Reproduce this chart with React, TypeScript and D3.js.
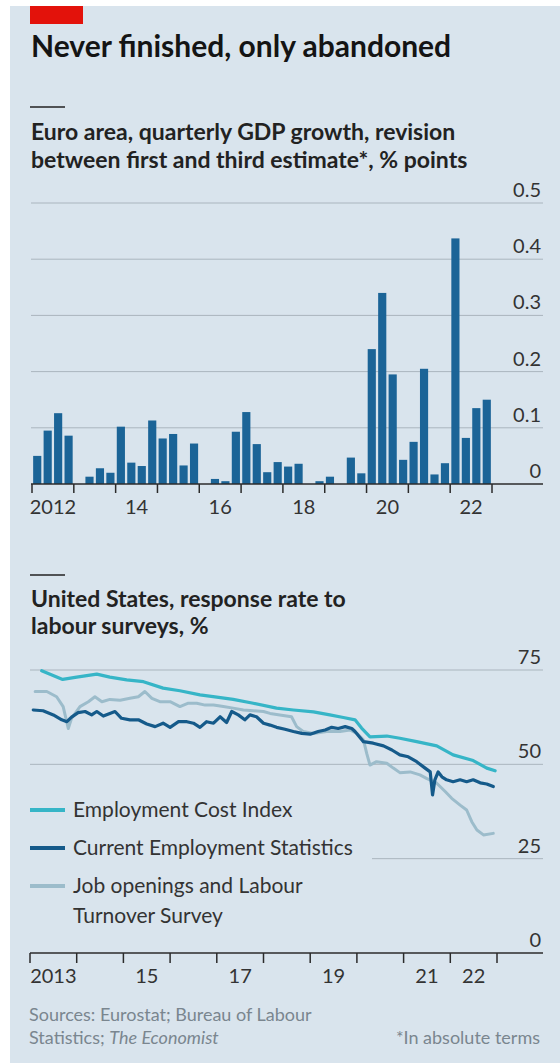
import React from "react";
import * as d3 from "d3";

// ---------- Data ----------
const barYears = [2012, 2013, 2014, 2015, 2016, 2017, 2018, 2019, 2020, 2021, 2022];
const quarters = ["Q1", "Q2", "Q3", "Q4"];
// GDP revision (abs), % points, quarterly from 2012Q1 to 2022Q4
const gdpRevision = [
  0.05, 0.095, 0.126, 0.086,
  0.0, 0.013, 0.028, 0.02,
  0.102, 0.038, 0.032, 0.113,
  0.081, 0.089, 0.033, 0.072,
  0.0, 0.009, 0.005, 0.093,
  0.128, 0.071, 0.021, 0.039,
  0.031, 0.036, 0.0, 0.005,
  0.013, 0.0, 0.047, 0.019,
  0.24, 0.34, 0.195, 0.043,
  0.075, 0.205, 0.017, 0.037,
  0.437, 0.082, 0.135, 0.15,
];
const barYTicks = [0, 0.1, 0.2, 0.3, 0.4, 0.5];
const barXLabels = [
  { year: 2012, label: "2012" },
  { year: 2014, label: "14" },
  { year: 2016, label: "16" },
  { year: 2018, label: "18" },
  { year: 2020, label: "20" },
  { year: 2022, label: "22" },
];

// Response rates, % : [decimal year, value]
const eciSeries: [number, number][] = [
  [2013.25, 74.8], [2013.7, 72.5], [2014.0, 73.1], [2014.43, 73.9], [2014.71, 73.1],
  [2015.07, 72.4], [2015.43, 71.9], [2015.85, 70.2], [2016.21, 69.5], [2016.64, 68.4],
  [2017.0, 67.8], [2017.35, 67.2], [2017.78, 66.2], [2018.28, 64.9], [2018.64, 64.4],
  [2019.07, 63.9], [2019.42, 63.1], [2019.71, 62.4], [2019.96, 61.8], [2020.1, 59.6],
  [2020.28, 57.3], [2020.64, 57.5], [2020.92, 56.9], [2021.28, 56.0], [2021.71, 54.9],
  [2022.06, 52.5], [2022.49, 51.0], [2022.78, 49.0], [2022.96, 48.3],
];
const cesSeries: [number, number][] = [
  [2013.07, 64.4], [2013.28, 64.2], [2013.5, 63.1], [2013.68, 61.8], [2013.79, 61.3],
  [2013.89, 62.5], [2014.03, 63.7], [2014.18, 64.0], [2014.32, 63.1], [2014.43, 64.0],
  [2014.57, 62.8], [2014.71, 63.5], [2014.82, 64.0], [2014.96, 62.2], [2015.14, 61.8],
  [2015.32, 61.8], [2015.5, 60.7], [2015.68, 60.0], [2015.85, 60.9], [2016.0, 59.8],
  [2016.18, 61.3], [2016.36, 61.3], [2016.5, 60.9], [2016.64, 59.8], [2016.78, 61.3],
  [2016.93, 60.9], [2017.07, 62.6], [2017.21, 61.1], [2017.32, 64.0], [2017.46, 63.1],
  [2017.6, 61.8], [2017.71, 63.1], [2017.85, 62.6], [2018.0, 60.9], [2018.14, 60.4],
  [2018.28, 59.8], [2018.46, 59.3], [2018.64, 58.7], [2018.82, 58.2], [2019.0, 58.0],
  [2019.17, 58.7], [2019.32, 59.1], [2019.46, 59.8], [2019.6, 59.5], [2019.75, 60.0],
  [2019.89, 59.5], [2019.96, 58.7], [2020.14, 56.0], [2020.35, 55.6], [2020.57, 54.9],
  [2020.75, 53.8], [2020.92, 52.5], [2021.1, 52.0], [2021.28, 50.7], [2021.46, 49.0],
  [2021.57, 48.0], [2021.62, 41.9], [2021.67, 45.9], [2021.74, 48.0], [2021.82, 46.7],
  [2021.92, 45.9], [2022.06, 45.4], [2022.21, 45.9], [2022.35, 45.4], [2022.49, 45.9],
  [2022.64, 45.1], [2022.78, 44.8], [2022.92, 44.1],
];
const joltsSeries: [number, number][] = [
  [2013.11, 69.3], [2013.36, 69.3], [2013.57, 67.9], [2013.71, 65.3], [2013.82, 59.5],
  [2013.89, 62.2], [2014.07, 65.3], [2014.25, 66.6], [2014.39, 67.9], [2014.54, 66.6],
  [2014.71, 67.2], [2014.93, 67.0], [2015.14, 67.5], [2015.32, 67.9], [2015.46, 69.3],
  [2015.61, 67.5], [2015.78, 66.6], [2016.0, 66.6], [2016.21, 65.3], [2016.39, 66.2],
  [2016.57, 66.2], [2016.75, 65.7], [2016.93, 65.7], [2017.14, 65.3], [2017.35, 64.9],
  [2017.57, 64.4], [2017.78, 64.2], [2018.0, 64.0], [2018.14, 63.5], [2018.35, 63.1],
  [2018.6, 62.6], [2018.71, 60.0], [2018.85, 58.7], [2019.07, 58.2], [2019.35, 58.7],
  [2019.64, 58.7], [2019.85, 59.1], [2020.0, 58.2], [2020.14, 56.5], [2020.21, 52.9],
  [2020.28, 49.8], [2020.42, 50.7], [2020.64, 50.3], [2020.78, 49.0], [2020.92, 47.8],
  [2021.14, 48.0], [2021.35, 47.2], [2021.49, 46.3], [2021.71, 45.0], [2021.89, 42.8],
  [2022.03, 41.0], [2022.21, 39.2], [2022.35, 37.9], [2022.46, 34.8], [2022.57, 32.6],
  [2022.71, 31.3], [2022.92, 31.7],
];
const lineYTicks = [0, 25, 50, 75];
const lineTickYears = [2013, 2014, 2015, 2016, 2017, 2018, 2019, 2020, 2021, 2022, 2023];
const lineXLabels = [
  { year: 2013, label: "2013" },
  { year: 2015, label: "15" },
  { year: 2017, label: "17" },
  { year: 2019, label: "19" },
  { year: 2021, label: "21" },
  { year: 2022, label: "22" },
];
const seriesNames = ["Employment Cost Index", "Current Employment Statistics", "Job openings and Labour|Turnover Survey"];

// ---------- Styles ----------
const W = 560;
const H = 1063;
const BG = "#d9e4ed";
const FONT = "Lato, 'Noto Sans', sans-serif";
const BAR = "#1b6497";
const ECI = "#36b5c7";
const CES = "#155a8a";
const JOLTS = "#9cbccb";
const GRID = "#aab5be";
const AXIS = "#2b2b2b";
const TXT = "#333";
const FOOT = "#7a868f";

export default function App() {
  // Bar chart scales
  const qLabels = barYears.flatMap((y) => quarters.map((q) => `${y}${q}`));
  const bx = d3.scaleBand<string>().domain(qLabels).range([32, 492]).paddingInner(0.22).paddingOuter(0.11);
  const byear = d3.scaleLinear().domain([2012, 2023]).range([32, 492]);
  const by = d3.scaleLinear().domain([0, 0.5]).range([484, 203]);

  // Line chart scales
  const lx = d3.scaleLinear().domain([2013, 2023]).range([30, 497]);
  const ly = d3.scaleLinear().domain([0, 75]).range([953, 670]);
  const line = d3.line<[number, number]>().x((d) => lx(d[0])).y((d) => ly(d[1]));

  const series = [
    { name: seriesNames[0], data: eciSeries, color: ECI, w: 3.2 },
    { name: seriesNames[2], data: joltsSeries, color: JOLTS, w: 3 },
    { name: seriesNames[1], data: cesSeries, color: CES, w: 3.2 },
  ];

  const legend = [
    { name: seriesNames[0], color: ECI, y: 817 },
    { name: seriesNames[1], color: CES, y: 855 },
    { name: seriesNames[2], color: JOLTS, y: 893 },
  ];

  return (
    <>
      <style>{`body{margin:0;background:#fff}`}</style>
      <svg width={W} height={H} style={{ display: "block", fontFamily: FONT }}>
        <rect x={0} y={0} width={W} height={H} fill="#fff" />
        <rect x={10} y={6} width={W - 10} height={H - 6} fill={BG} />
        <rect x={30} y={6} width={53} height={18} fill="#e3120b" />

        <text x={31} y={57} fontSize={30} fontWeight={700} fill="#141414">
          Never finished, only abandoned
        </text>

        {/* Bar chart header */}
        <line x1={30} x2={65} y1={107} y2={107} stroke="#222" strokeWidth={1.5} />
        <text x={31} y={140} fontSize={23} fontWeight={700} fill="#222">
          Euro area, quarterly GDP growth, revision
        </text>
        <text x={31} y={168} fontSize={23} fontWeight={700} fill="#222">
          between first and third estimate*, % points
        </text>

        {/* Bar grid */}
        {barYTicks.map((t) => (
          <g key={`bg${t}`}>
            {t !== 0 && <line x1={31} x2={543} y1={by(t)} y2={by(t)} stroke={GRID} strokeWidth={1} />}
            <text x={541} y={by(t) - 6} fontSize={20} textAnchor="end" fill={TXT}>
              {t === 0 ? "0" : t.toFixed(1)}
            </text>
          </g>
        ))}
        {/* Bars */}
        {gdpRevision.map((v, i) => (
          <rect key={`b${i}`} x={bx(qLabels[i])} width={bx.bandwidth()} y={by(v)} height={by(0) - by(v)} fill={BAR} />
        ))}
        <line x1={31} x2={543} y1={by(0)} y2={by(0)} stroke={AXIS} strokeWidth={1.5} />
        {d3.range(2012, 2024).map((y) => (
          <line key={`bt${y}`} x1={byear(y)} x2={byear(y)} y1={by(0)} y2={by(0) + 9} stroke={AXIS} strokeWidth={1.5} />
        ))}
        {barXLabels.map((d) => (
          <text key={`bl${d.year}`} x={byear(d.year + 0.5)} y={514} fontSize={20} textAnchor="middle" fill={TXT}>
            {d.label}
          </text>
        ))}

        {/* Line chart header */}
        <line x1={30} x2={65} y1={575} y2={575} stroke="#222" strokeWidth={1.5} />
        <text x={31} y={607} fontSize={23} fontWeight={700} fill="#222">
          United States, response rate to
        </text>
        <text x={31} y={634} fontSize={23} fontWeight={700} fill="#222">
          labour surveys, %
        </text>

        {/* Line grid */}
        {lineYTicks.map((t) => (
          <g key={`lg${t}`}>
            {t !== 0 && (
              <line x1={t === 25 ? 372 : 30} x2={543} y1={ly(t)} y2={ly(t)} stroke={GRID} strokeWidth={1} />
            )}
            <text x={541} y={ly(t) - 6} fontSize={20} textAnchor="end" fill={TXT}>
              {t}
            </text>
          </g>
        ))}

        {series.map((s) => (
          <path key={s.name} d={line(s.data) || ""} fill="none" stroke={s.color} strokeWidth={s.w} strokeLinejoin="round" strokeLinecap="round" />
        ))}

        <line x1={30} x2={543} y1={ly(0)} y2={ly(0)} stroke={AXIS} strokeWidth={1.5} />
        {lineTickYears.map((y) => (
          <line key={`lt${y}`} x1={lx(y)} x2={lx(y)} y1={ly(0)} y2={ly(0) + 10} stroke={AXIS} strokeWidth={1.5} />
        ))}
        {lineXLabels.map((d) => (
          <text key={`ll${d.year}`} x={lx(d.year + 0.5)} y={983} fontSize={20} textAnchor="middle" fill={TXT}>
            {d.label}
          </text>
        ))}

        {/* Legend */}
        {legend.map((l) => (
          <g key={`leg${l.name}`}>
            <line x1={30} x2={65} y1={l.y - 7} y2={l.y - 7} stroke={l.color} strokeWidth={4} />
            {l.name.split("|").map((part, j) => (
              <text key={j} x={73} y={l.y + j * 30} fontSize={21} fill={TXT}>
                {part}
              </text>
            ))}
          </g>
        ))}

        {/* Footer */}
        <text x={29} y={1021} fontSize={18} fill={FOOT}>
          Sources: Eurostat; Bureau of Labour
        </text>
        <text x={29} y={1044} fontSize={18} fill={FOOT}>
          Statistics; <tspan fontStyle="italic">The Economist</tspan>
        </text>
        <text x={540} y={1044} fontSize={18} textAnchor="end" fill={FOOT}>
          *In absolute terms
        </text>
      </svg>
    </>
  );
}
